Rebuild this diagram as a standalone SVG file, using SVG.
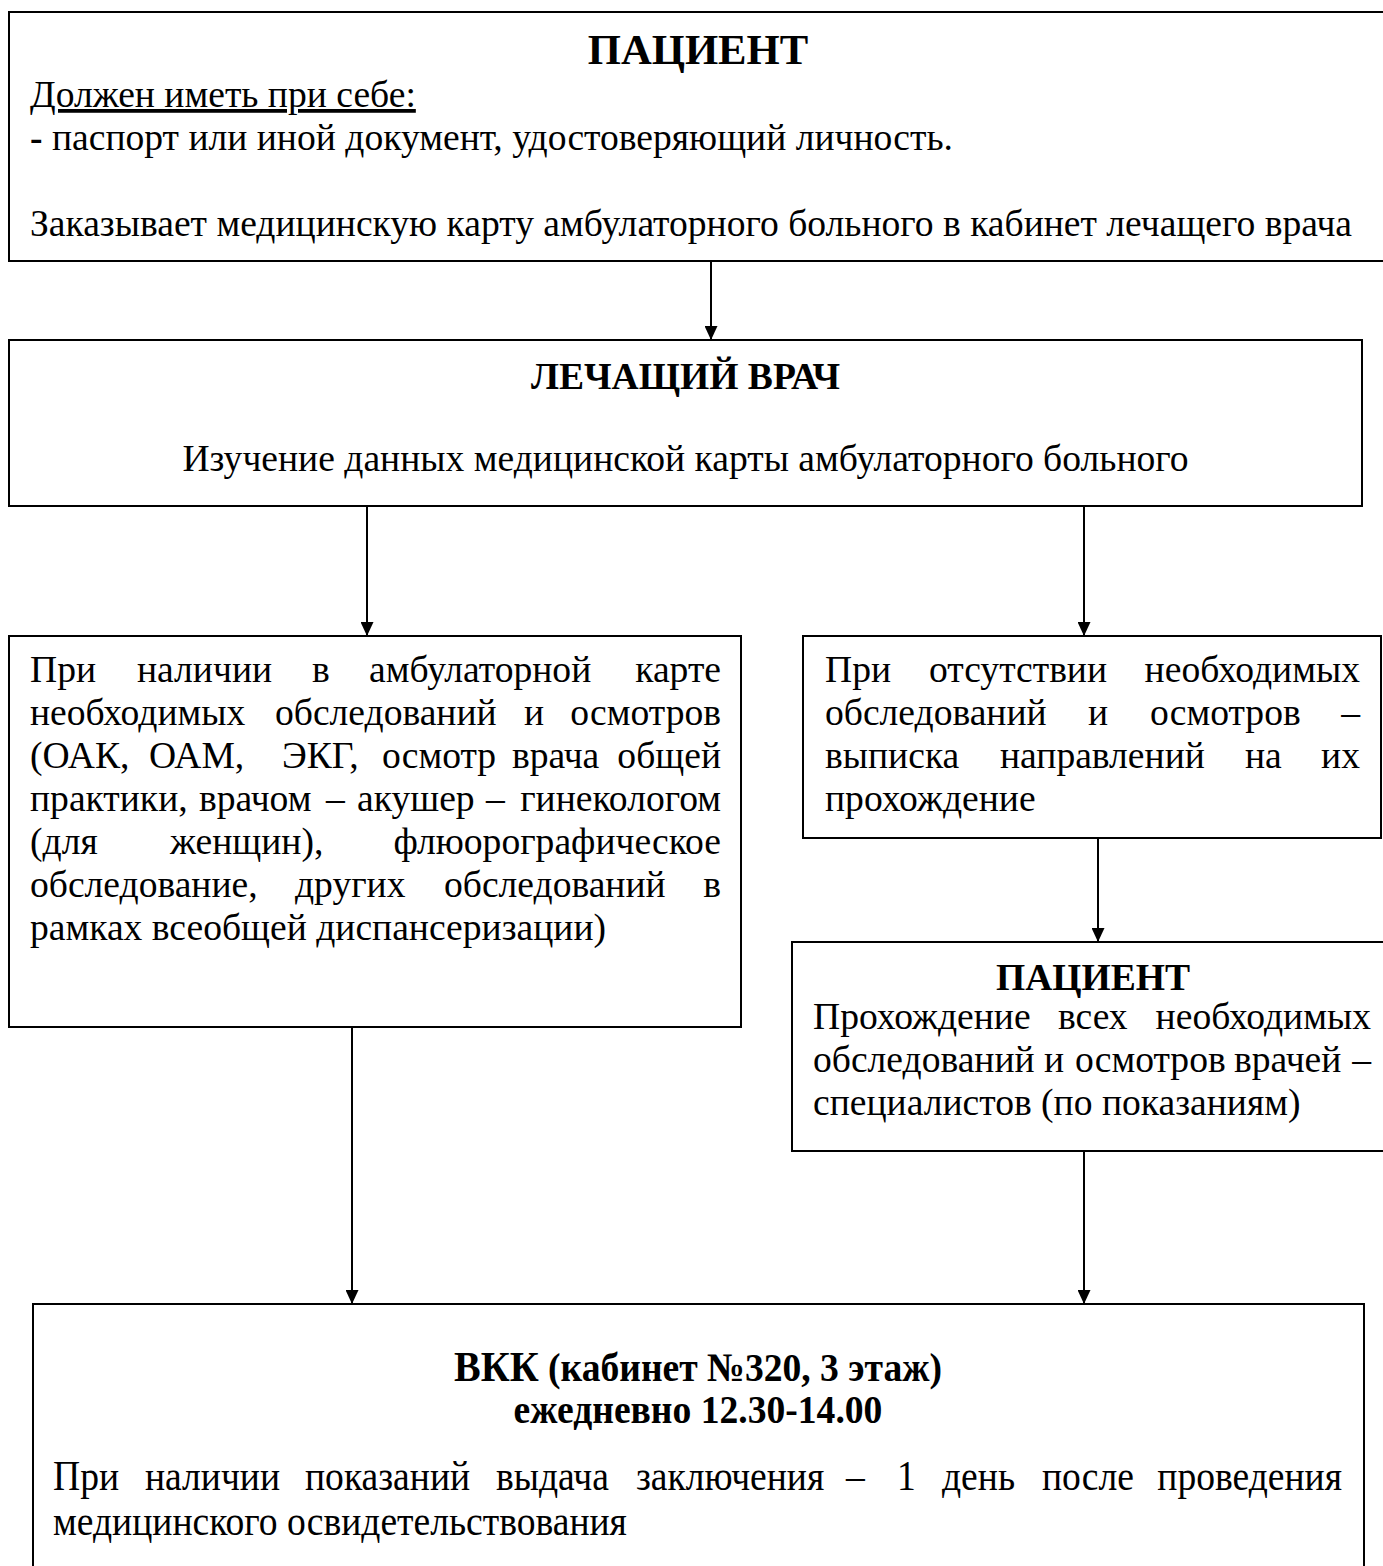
<svg xmlns="http://www.w3.org/2000/svg" width="1383" height="1566" viewBox="0 0 1383 1566">
<style>
.t{font-family:"Liberation Serif","Times New Roman",serif;font-size:37.6px;fill:#000}
.b{font-weight:bold}
.e{text-anchor:end}
.m{text-anchor:middle}
.box{fill:#fff;stroke:#000;stroke-width:2}
.conn line{stroke:#000;stroke-width:2;marker-end:url(#ah)}
</style>
<defs>
<marker id="ah" viewBox="0 0 14 13" refX="14" refY="6.5" markerWidth="14" markerHeight="13" markerUnits="userSpaceOnUse" orient="auto">
<path d="M0,0 L14,6.5 L0,13 z" fill="#000"/>
</marker>
</defs>
<rect width="1383" height="1566" fill="#fff"/>

<g id="patient-top">
<rect class="box" x="9" y="12" width="1380" height="249"/>
<text class="t b m" x="698" y="64" style="font-size:42.67px">ПАЦИЕНТ</text>
<text class="t" x="30" y="107" text-decoration="underline">Должен иметь при себе:</text>
<text class="t" x="30" y="150"><tspan class="b">-</tspan> паспорт или иной документ, удостоверяющий личность.</text>
<text class="t" x="30" y="236">Заказывает медицинскую карту амбулаторного больного в кабинет лечащего врача</text>
</g>

<g id="doctor">
<rect class="box" x="9" y="340" width="1353" height="166"/>
<text class="t b m" x="685.5" y="389">ЛЕЧАЩИЙ ВРАЧ</text>
<text class="t m" x="685.5" y="471">Изучение данных медицинской карты амбулаторного больного</text>
</g>

<g id="has-exams">
<rect class="box" x="9" y="636" width="732" height="391"/>
<text class="t" x="30" y="682">При</text><text class="t" x="137" y="682">наличии</text><text class="t" x="312" y="682">в</text><text class="t" x="369" y="682">амбулаторной</text><text class="t e" x="721" y="682">карте</text>
<text class="t" x="30" y="725">необходимых</text><text class="t" x="275" y="725">обследований</text><text class="t" x="524" y="725">и</text><text class="t e" x="721" y="725">осмотров</text>
<text class="t" x="30" y="768">(ОАК,</text><text class="t" x="149" y="768">ОАМ,</text><text class="t" x="282" y="768">ЭКГ,</text><text class="t" x="382" y="768">осмотр</text><text class="t" x="512" y="768">врача</text><text class="t e" x="721" y="768">общей</text>
<text class="t" x="30" y="811">практики,</text><text class="t" x="199" y="811">врачом</text><text class="t" x="326" y="811">–</text><text class="t" x="357" y="811">акушер</text><text class="t" x="486" y="811">–</text><text class="t e" x="721" y="811">гинекологом</text>
<text class="t" x="30" y="854">(для</text><text class="t" x="170" y="854">женщин),</text><text class="t e" x="721" y="854">флюорографическое</text>
<text class="t" x="30" y="897">обследование,</text><text class="t" x="295" y="897">других</text><text class="t" x="444" y="897">обследований</text><text class="t e" x="721" y="897">в</text>
<text class="t" x="30" y="940">рамках всеобщей диспансеризации)</text>
</g>

<g id="no-exams">
<rect class="box" x="803" y="636" width="578" height="202"/>
<text class="t" x="825" y="682">При</text><text class="t" x="929" y="682">отсутствии</text><text class="t e" x="1360" y="682">необходимых</text>
<text class="t" x="825" y="725">обследований</text><text class="t" x="1088" y="725">и</text><text class="t" x="1150" y="725">осмотров</text><text class="t e" x="1360" y="725">–</text>
<text class="t" x="825" y="768">выписка</text><text class="t" x="1000" y="768">направлений</text><text class="t" x="1245" y="768">на</text><text class="t e" x="1360" y="768">их</text>
<text class="t" x="825" y="811">прохождение</text>
</g>

<g id="patient-exams">
<rect class="box" x="792" y="942" width="602" height="209"/>
<text class="t b m" x="1093" y="990">ПАЦИЕНТ</text>
<text class="t" x="813" y="1029">Прохождение</text><text class="t" x="1058" y="1029">всех</text><text class="t e" x="1371" y="1029">необходимых</text>
<text class="t" x="813" y="1072">обследований</text><text class="t" x="1044" y="1072">и</text><text class="t" x="1075" y="1072">осмотров</text><text class="t" x="1234" y="1072">врачей</text><text class="t e" x="1371" y="1072">–</text>
<text class="t" x="813" y="1115">специалистов (по показаниям)</text>
</g>

<g id="vkk">
<rect class="box" x="33" y="1304" width="1331" height="300"/>
<g transform="translate(0,1381) scale(1,1.08)">
<text class="t b m" x="698" y="0"><tspan style="font-size:40px">ВКК</tspan> (кабинет №320, 3 этаж)</text>
</g>
<g transform="translate(0,1423) scale(1,1.08)">
<text class="t b m" x="698" y="0">ежедневно 12.30-14.00</text>
</g>
<g transform="translate(0,1490) scale(1,1.14)">
<text class="t" x="53" y="0">При</text><text class="t" x="145" y="0">наличии</text><text class="t" x="305" y="0">показаний</text><text class="t" x="496" y="0">выдача</text><text class="t" x="636" y="0">заключения</text><text class="t" x="846" y="0">–</text><text class="t" x="897" y="0">1</text><text class="t" x="942" y="0">день</text><text class="t" x="1042" y="0">после</text><text class="t e" x="1342" y="0">проведения</text>
</g>
<g transform="translate(0,1535) scale(1,1.14)">
<text class="t" x="53" y="0">медицинского освидетельствования</text>
</g>
</g>

<g id="connectors" class="conn">
<line x1="711" y1="261" x2="711" y2="340"/>
<line x1="367" y1="506" x2="367" y2="636"/>
<line x1="1084" y1="506" x2="1084" y2="636"/>
<line x1="1098" y1="838" x2="1098" y2="942"/>
<line x1="352" y1="1027" x2="352" y2="1304"/>
<line x1="1084" y1="1151" x2="1084" y2="1304"/>
</g>
</svg>
